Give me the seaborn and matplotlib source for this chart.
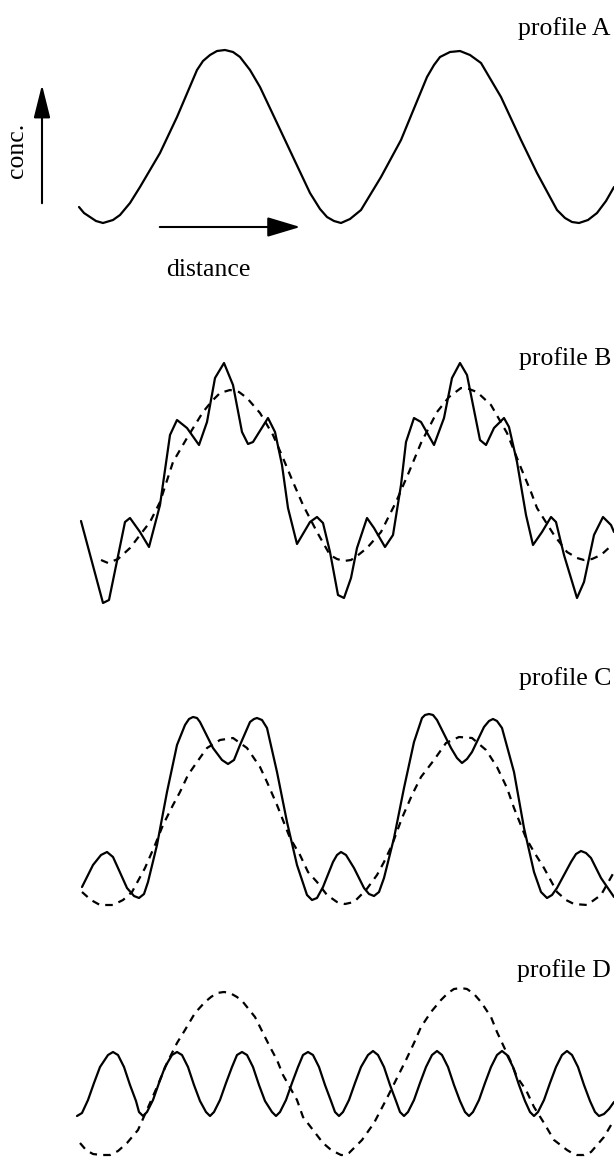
import matplotlib
matplotlib.use("Agg")
import matplotlib.pyplot as plt
import seaborn as sns
import pandas as pd

# ---------------- data (distance, concentration) ----------------
# profile A : single sinusoid-like profile
a_dist = [79, 84, 90, 96, 103, 113, 120, 130, 140, 160, 177, 197, 203, 210, 217, 225, 233,
          240, 250, 260, 277, 293, 310, 320, 327, 334, 341, 350, 361, 381, 401, 427, 434,
          440, 450, 460, 470, 481, 501, 521, 537, 557, 565, 572, 579, 588, 597, 606, 614]
a_conc = [16, 10, 6, 2, 0, 3, 8, 20, 36, 70, 106, 153, 162, 168, 172, 173, 171,
          166, 153, 136, 100, 66, 30, 14, 6, 2, 0, 4, 13, 46, 83, 146, 158,
          166, 171, 172, 168, 160, 126, 83, 50, 13, 5, 1, 0, 3, 10, 22, 36]

# profile B : solid (with fine structure) and dashed (fundamental)
b_dist = [81, 103, 109, 125, 130, 140, 149, 160, 170, 177, 187, 199, 207, 215, 224, 233,
          242, 248, 253, 268, 275, 282, 288, 297, 310, 317, 323, 330, 338, 344, 351, 357,
          367, 374, 385, 393, 401, 406, 414, 421, 434, 444, 452, 460, 467, 480, 486, 494,
          504, 509, 517, 526, 533, 542, 551, 556, 564, 577, 584, 594, 603, 611, 614]
b_conc = [82, 0, 3, 81, 85, 71, 56, 98, 168, 183, 175, 158, 181, 225, 240, 218,
          171, 159, 161, 185, 171, 138, 95, 59, 81, 86, 80, 51, 8, 5, 25, 55,
          85, 75, 56, 68, 118, 161, 185, 181, 158, 185, 225, 240, 228, 163, 158, 175,
          185, 176, 141, 88, 58, 71, 86, 81, 48, 5, 21, 68, 86, 78, 71]
b_fund_dist = [101, 108, 118, 130, 150, 160, 173, 187, 203, 212, 220, 230, 239, 247, 260,
               273, 283, 293, 303, 317, 330, 337, 344, 351, 357, 367, 381, 396, 409, 421,
               437, 449, 461, 469, 477, 491, 507, 521, 531, 537, 554, 567, 577, 584, 592,
               601, 612]
b_fund_conc = [43, 40, 44, 55, 81, 101, 141, 165, 191, 202, 210, 213, 211, 205, 190,
               168, 145, 121, 98, 71, 48, 44, 42, 43, 47, 55, 71, 101, 131, 160,
               191, 206, 215, 214, 211, 198, 170, 135, 111, 95, 68, 51, 45, 43, 44,
               48, 58]

# profile C : solid (fundamental + harmonic) and dashed (fundamental)
c_dist = [82, 93, 101, 107, 113, 118, 127, 134, 139, 144, 148, 157, 167, 177, 185, 189,
          193, 197, 200, 213, 222, 228, 234, 240, 250, 254, 257, 262, 267, 277, 287, 297,
          307, 312, 317, 323, 333, 337, 341, 346, 354, 364, 369, 374, 379, 384, 394, 404,
          414, 422, 425, 429, 433, 437, 451, 457, 462, 467, 472, 484, 489, 493, 497, 502,
          514, 524, 534, 541, 547, 552, 557, 571, 576, 581, 586, 591, 601, 614]
c_conc = [19, 41, 51, 54, 49, 38, 18, 10, 8, 12, 24, 61, 114, 161, 181, 187,
          189, 188, 184, 158, 146, 142, 146, 161, 184, 187, 188, 186, 178, 134, 84, 41,
          11, 6, 8, 19, 44, 51, 54, 51, 38, 18, 12, 10, 14, 28, 68, 118,
          164, 188, 191, 192, 191, 186, 158, 148, 143, 147, 154, 179, 185, 187, 185, 178,
          134, 78, 34, 14, 8, 11, 18, 44, 52, 55, 53, 48, 28, 9]
c_fund_dist = [82, 91, 100, 113, 123, 132, 145, 155, 163, 173, 180, 188, 197, 207, 220,
               233, 247, 260, 267, 277, 290, 300, 308, 317, 327, 337, 345, 354, 366, 377,
               384, 392, 402, 412, 421, 434, 446, 459, 472, 486, 497, 507, 514, 526, 534,
               544, 557, 566, 574, 587, 601, 614]
c_fund_conc = [14, 6, 1, 1, 6, 14, 38, 61, 81, 101, 114, 131, 144, 158, 166,
               168, 158, 139, 124, 101, 68, 51, 34, 24, 11, 4, 2, 4, 16, 31,
               44, 61, 88, 111, 129, 146, 163, 169, 168, 156, 139, 118, 98, 68, 54,
               38, 14, 6, 2, 1, 11, 34]

# profile D : solid (short wavelength) and dashed (long wavelength)
d_dist = [77, 82, 88, 94, 100, 108, 113, 118, 124, 130, 136, 139, 143,
          147, 153, 159, 165, 172, 177, 182, 188, 194, 200, 206, 210,
          214, 220, 226, 232, 237, 242, 247, 253, 259, 265, 272, 276,
          280, 286, 292, 298, 303, 308, 313, 319, 325, 331, 335, 339,
          343, 349, 355, 361, 368, 373, 378, 384, 390, 396, 400, 404,
          408, 414, 420, 426, 432, 437, 442, 448, 454, 460, 465, 469,
          473, 479, 485, 491, 497, 502, 507, 513, 519, 525, 530, 534,
          538, 544, 550, 556, 562, 567, 572, 578, 584, 590, 595, 599,
          604, 609, 614]
d_conc = [39, 42, 55, 72, 88, 100, 103, 100, 88, 70, 54, 43, 39,
          43, 55, 72, 88, 100, 103, 100, 88, 70, 54, 43, 39,
          43, 55, 72, 88, 100, 103, 100, 88, 70, 54, 43, 39,
          43, 55, 72, 88, 100, 103, 100, 88, 70, 54, 43, 39,
          43, 55, 72, 88, 100, 104, 100, 88, 70, 54, 43, 39,
          43, 55, 72, 88, 100, 104, 100, 88, 70, 54, 43, 39,
          43, 55, 72, 88, 100, 104, 100, 88, 70, 54, 43, 39,
          43, 55, 72, 88, 100, 104, 100, 88, 70, 54, 43, 39,
          41, 46, 53]
d_long_dist = [80, 86, 93, 101, 110, 118, 127, 138, 150, 157, 167, 177, 185, 195, 205,
               211, 217, 224, 230, 237, 243, 255, 263, 270, 277, 283, 297, 303, 313, 323,
               330, 337, 341, 345, 349, 362, 374, 386, 396, 406, 414, 421, 431, 441, 448,
               454, 461, 467, 474, 481, 491, 497, 504, 511, 517, 526, 534, 544, 554, 567,
               572, 577, 584, 591, 604, 614]
d_long_conc = [12, 5, 1, 0, 0, 4, 12, 25, 52, 68, 92, 112, 125, 142, 153,
               158, 162, 163, 162, 158, 153, 138, 122, 108, 95, 80, 55, 38, 25, 12,
               6, 2, 0, 0, 2, 15, 32, 55, 75, 95, 112, 128, 143, 155, 162,
               166, 167, 166, 161, 153, 138, 123, 108, 93, 78, 65, 48, 32, 15, 5,
               2, 0, 0, 3, 18, 35]

labels = ["profile A", "profile B", "profile C", "profile D"]
axis_labels = ["conc.", "distance"]

# ---------------- figure ----------------
W, H = 614, 1159
DPI = 100
sns.set_theme(style="white")
plt.rcParams["font.family"] = ["Liberation Serif", "DejaVu Serif"]

fig = plt.figure(figsize=(W / DPI, H / DPI), dpi=DPI)
fig.patch.set_facecolor("white")

# (top px, bottom px, trough baseline px) for each panel
panels = [(0, 290, 223), (290, 620, 603), (620, 930, 906), (930, 1159, 1155)]
series = [
    [(a_dist, a_conc, "solid")],
    [(b_fund_dist, b_fund_conc, "dash"), (b_dist, b_conc, "solid")],
    [(c_fund_dist, c_fund_conc, "dash"), (c_dist, c_conc, "solid")],
    [(d_long_dist, d_long_conc, "dash"), (d_dist, d_conc, "solid")],
]

LW = 1.6
for (top, bot, base), ser in zip(panels, series):
    ax = fig.add_axes([0, 1 - bot / H, 1, (bot - top) / H])
    ax.set_xlim(0, W)
    ax.set_ylim(base - bot, base - top)
    for xs, ys, kind in ser:
        df = pd.DataFrame({"distance": xs, "conc": ys})
        if kind == "solid":
            sns.lineplot(data=df, x="distance", y="conc", ax=ax, color="black",
                         linewidth=LW, estimator=None, sort=False,
                         solid_joinstyle="round", solid_capstyle="round")
        else:
            sns.lineplot(data=df, x="distance", y="conc", ax=ax, color="black",
                         linewidth=LW, estimator=None, sort=False,
                         linestyle=(0, (3.4, 2.8)))
    ax.set_axis_off()

def fx(x):
    return x / W

def fy(y):
    return 1 - y / H

# panel labels
label_baselines = [35, 365, 685, 977]
for lab, yb in zip(labels, label_baselines):
    fig.text(fx(611), fy(yb), lab, ha="right", va="baseline", fontsize=18.5,
             color="black")

# axis arrows and labels
fig.add_artist(matplotlib.patches.FancyArrowPatch(
    (fx(42), fy(206)), (fx(42), fy(82)), transform=fig.transFigure,
    arrowstyle="-|>,head_length=0.6,head_width=0.15", mutation_scale=34,
    color="black", lw=1.5))
fig.add_artist(matplotlib.patches.FancyArrowPatch(
    (fx(157), fy(227)), (fx(303), fy(227)), transform=fig.transFigure,
    arrowstyle="-|>,head_length=0.6,head_width=0.18", mutation_scale=34,
    color="black", lw=1.5))
fig.text(fx(17), fy(150), axis_labels[0], rotation=90, ha="center", va="center",
         fontsize=18.5, color="black")
fig.text(fx(208), fy(276), axis_labels[1], ha="center", va="baseline",
         fontsize=18.5, color="black")

fig.savefig("out.png", dpi=DPI, facecolor="white")
